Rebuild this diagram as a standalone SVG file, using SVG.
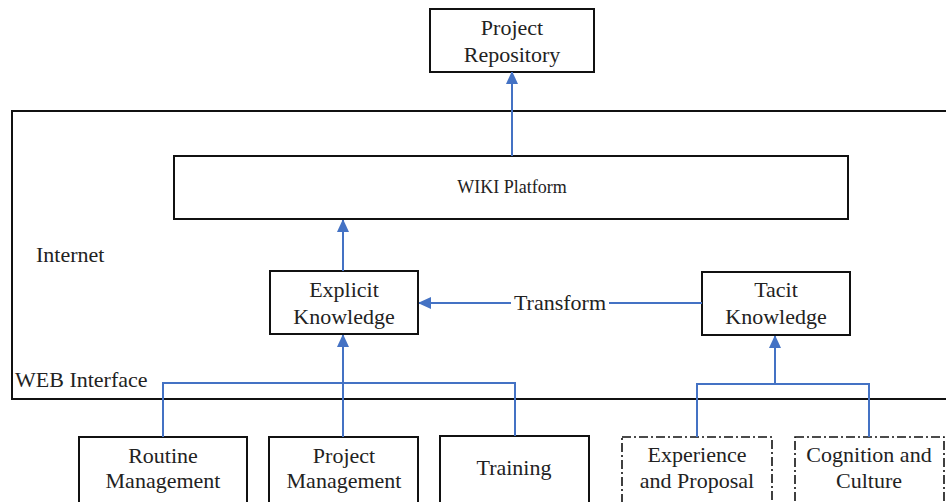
<svg xmlns="http://www.w3.org/2000/svg" width="946" height="502" viewBox="0 0 946 502">
  <style>
    .box { fill: #ffffff; stroke: #111111; stroke-width: 2; }
    .dash { fill: #ffffff; stroke: #111111; stroke-width: 1.6; stroke-dasharray: 9 3 2 3; }
    .lbl { font-family: "Liberation Serif", "Times New Roman", serif; font-size: 22px; fill: #222222; text-anchor: middle; }
    .free { font-family: "Liberation Serif", "Times New Roman", serif; font-size: 22px; fill: #222222; }
    .conn { fill: none; stroke: #4472c4; stroke-width: 2; }
  </style>
  <defs>
    <marker id="arrow" markerUnits="userSpaceOnUse" markerWidth="12" markerHeight="13" viewBox="0 0 12 13" refX="12" refY="6" orient="auto">
      <path d="M0,0 L13,6 L0,12 Z" fill="#4472c4"/>
    </marker>
  </defs>
  <rect width="946" height="502" fill="#ffffff"/>

  <!-- Internet / web interface frame -->
  <g id="frame">
    <rect x="12" y="111" width="940" height="288" fill="none" stroke="#111111" stroke-width="2"/>
    <text class="free" x="36" y="262">Internet</text>
    <text class="free" x="15" y="387">WEB Interface</text>
  </g>

  <g id="repository">
    <rect class="box" x="430" y="9" width="164" height="63"/>
    <text class="lbl" x="512" y="35">Project</text>
    <text class="lbl" x="512" y="62">Repository</text>
  </g>

  <g id="wiki">
    <rect class="box" x="174" y="156" width="674" height="63"/>
    <text class="lbl" x="512" y="193" style="font-size:18px">WIKI Platform</text>
  </g>

  <g id="explicit">
    <rect class="box" x="270" y="271" width="148" height="63"/>
    <text class="lbl" x="344" y="297">Explicit</text>
    <text class="lbl" x="344" y="324">Knowledge</text>
  </g>

  <g id="tacit">
    <rect class="box" x="702" y="272" width="148" height="63"/>
    <text class="lbl" x="776" y="297">Tacit</text>
    <text class="lbl" x="776" y="324">Knowledge</text>
  </g>

  <g id="routine">
    <rect class="box" x="79" y="437" width="168" height="70"/>
    <text class="lbl" x="163" y="463">Routine</text>
    <text class="lbl" x="163" y="488">Management</text>
  </g>

  <g id="projectmgmt">
    <rect class="box" x="269" y="437" width="149" height="70"/>
    <text class="lbl" x="344" y="463">Project</text>
    <text class="lbl" x="344" y="488">Management</text>
  </g>

  <g id="training">
    <rect class="box" x="440" y="436" width="149" height="70"/>
    <text class="lbl" x="514" y="475">Training</text>
  </g>

  <g id="experience">
    <rect class="dash" x="622" y="437" width="150" height="70"/>
    <text class="lbl" x="697" y="462">Experience</text>
    <text class="lbl" x="697" y="488">and Proposal</text>
  </g>

  <g id="cognition">
    <rect class="dash" x="795" y="437" width="149" height="70"/>
    <text class="lbl" x="869" y="462">Cognition and</text>
    <text class="lbl" x="869" y="488">Culture</text>
  </g>

  <g id="connectors">
    <!-- wiki to repository -->
    <line class="conn" x1="512" y1="156" x2="512" y2="72" marker-end="url(#arrow)"/>
    <!-- explicit to wiki -->
    <line class="conn" x1="343" y1="271" x2="343" y2="220" marker-end="url(#arrow)"/>
    <!-- tacit to explicit, labelled Transform -->
    <line class="conn" x1="702" y1="303" x2="609" y2="303"/>
    <line class="conn" x1="511" y1="303" x2="419" y2="303" marker-end="url(#arrow)"/>
    <text class="lbl" x="560" y="310">Transform</text>
    <!-- routine / project / training to explicit -->
    <polyline class="conn" points="163,437 163,383 515,383 515,436"/>
    <line class="conn" x1="343" y1="437" x2="343" y2="335" marker-end="url(#arrow)"/>
    <!-- experience / cognition to tacit -->
    <polyline class="conn" points="697,437 697,384 869,384 869,437"/>
    <line class="conn" x1="775" y1="384" x2="775" y2="336" marker-end="url(#arrow)"/>
  </g>
</svg>
